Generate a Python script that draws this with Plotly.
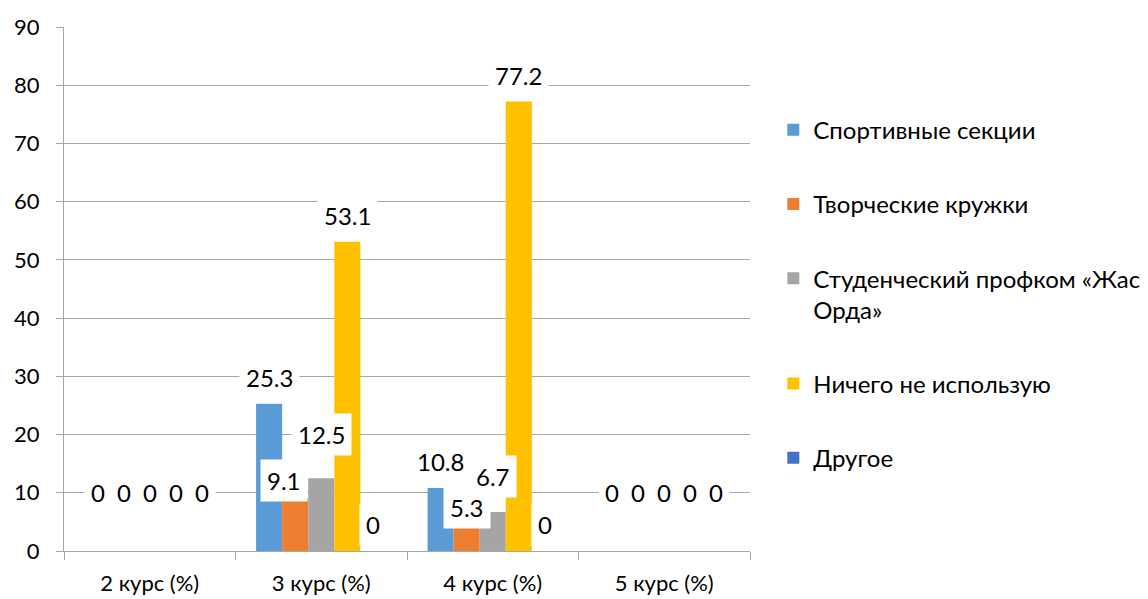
import plotly.graph_objects as go

categories = ["2 курс (%)", "3 курс (%)", "4 курс (%)", "5 курс (%)"]
series_names = [
    "Спортивные секции",
    "Творческие кружки",
    "Студенческий профком «Жас<br>Орда»",
    "Ничего не использую",
    "Другое",
]
sport = [0, 25.3, 10.8, 0]
creative = [0, 9.1, 5.3, 0]
profcom = [0, 12.5, 6.7, 0]
nothing = [0, 53.1, 77.2, 0]
other = [0, 0, 0, 0]

series_values = [sport, creative, profcom, nothing, other]
colours = ["#5B9BD5", "#ED7D31", "#A5A5A5", "#FFC000", "#4472C4"]

# Excel moved a few labels to avoid overlaps: (category, series) -> (dx px, dy px)
label_nudge = {
    (1, 1): (-11, -9), (1, 2): (0, 17),
    (2, 1): (0, -14), (2, 2): (0, 9),
}
for s in range(5):
    label_nudge[(0, s)] = (0, 32)
    label_nudge[(3, s)] = (0, 32)

BARGAP = 0.24
FONT = "Lato, Liberation Sans, sans-serif"

fig = go.Figure()
for name, vals, col in zip(series_names, series_values, colours):
    fig.add_trace(go.Bar(
        x=categories, y=vals, name=name, marker_color=col,
        marker_line_width=0, legendgroup=name,
    ))

slot = (1 - BARGAP) / len(series_values)
for si, vals in enumerate(series_values):
    for ci, v in enumerate(vals):
        dx, dy = label_nudge.get((ci, si), (0, 0))
        fig.add_annotation(
            x=ci + (si - 2) * slot, y=v, xref="x", yref="y",
            text=f"{v:g}", showarrow=False, yanchor="bottom",
            xshift=dx, yshift=5 + dy,
            bgcolor="white", borderpad=6,
            font=dict(size=24, color="#000", family=FONT),
        )

# the html page adds an 8px body margin, so margins are offset by that
fig.update_layout(
    width=1148, height=599,
    margin=dict(l=56, r=406, t=19, b=56, autoexpand=False),
    paper_bgcolor="white", plot_bgcolor="white",
    barmode="group", bargap=BARGAP, bargroupgap=0,
    font=dict(family=FONT, size=22, color="#000"),
    showlegend=True,
    legend=dict(
        x=1.034, xanchor="left", y=0.846, yanchor="top",
        traceorder="grouped", tracegroupgap=40, valign="top",
        font=dict(size=24, color="#000", family=FONT),
        itemwidth=30,
    ),
)
fig.update_xaxes(
    showline=True, linecolor="#a6a6a6", linewidth=1,
    ticks="outside", tickson="boundaries", ticklen=8, tickcolor="#a6a6a6",
    showgrid=False, tickfont=dict(size=22, color="#000"), automargin=False,
    ticklabelstandoff=13,
)
fig.update_yaxes(
    range=[0, 90], dtick=10, showline=True, linecolor="#a6a6a6", linewidth=1,
    ticks="outside", ticklen=7, tickcolor="#a6a6a6",
    showgrid=True, gridcolor="#a6a6a6", gridwidth=1,
    tickfont=dict(size=22, color="#000"), zeroline=False, automargin=False,
    ticklabelstandoff=12,
)

fig.write_html("out.html")
